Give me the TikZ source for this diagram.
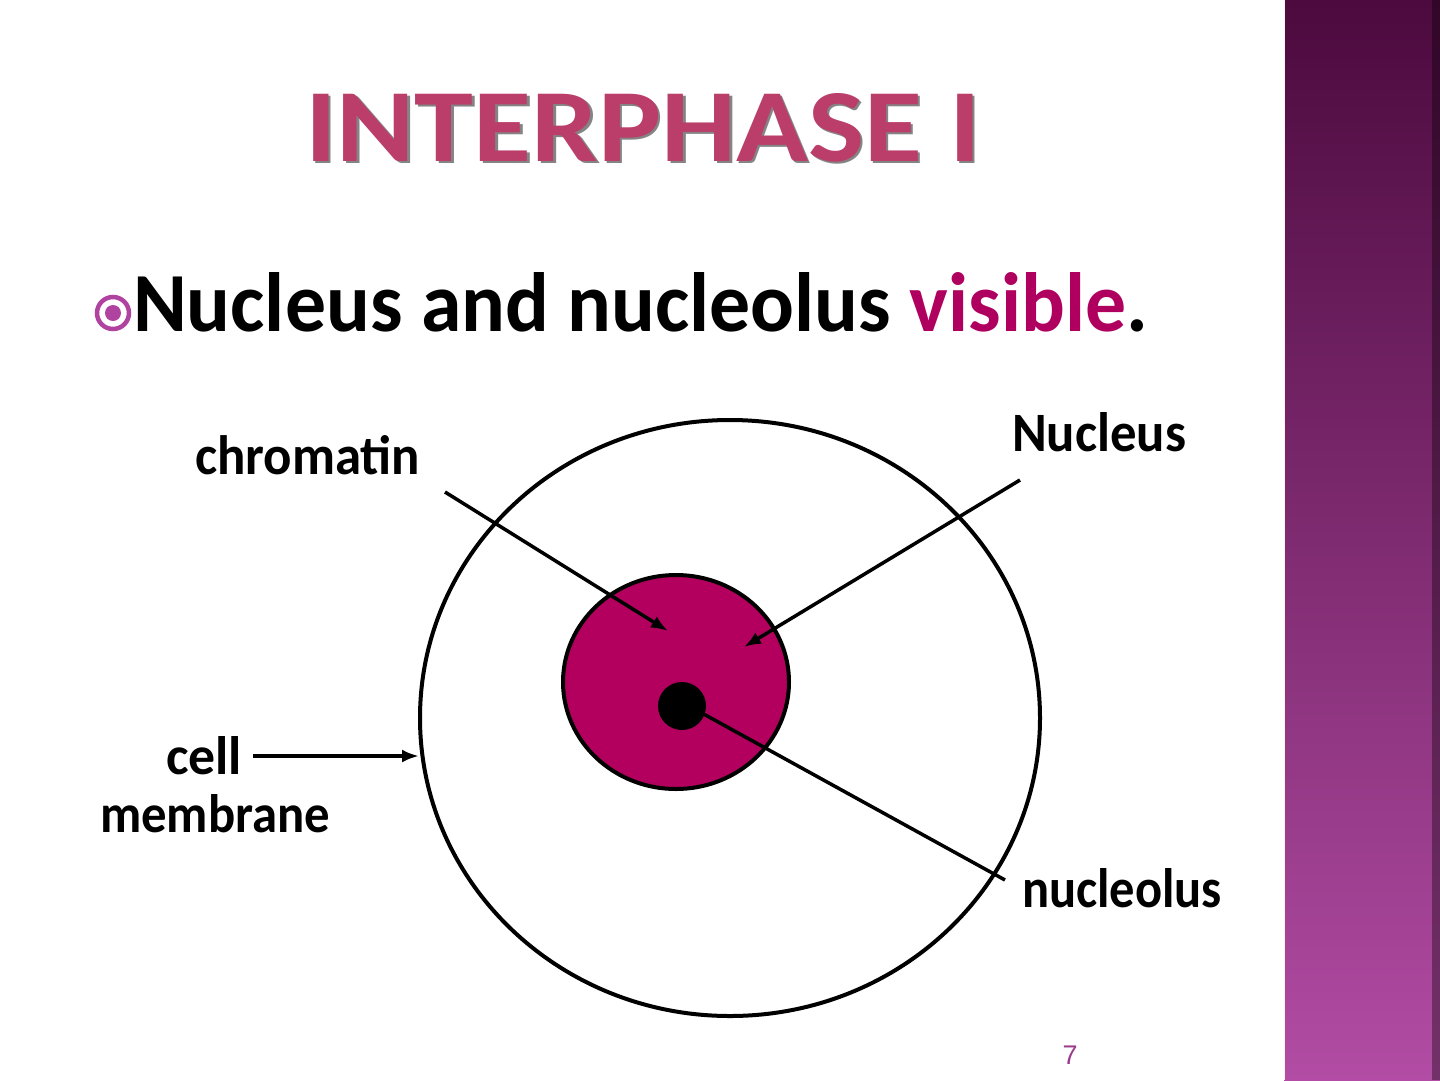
\documentclass[tikz,border=0pt]{standalone}
\usepackage{fontspec}
\setmainfont{Carlito}
\setsansfont{Liberation Sans}
\usepackage{graphicx}
\usetikzlibrary{arrows.meta}
\definecolor{titlepink}{HTML}{BB3D6A}
\definecolor{vispink}{HTML}{B0005F}
\definecolor{nucfill}{HTML}{B3005F}
\definecolor{bulletc}{HTML}{B042A0}
\definecolor{pagenum}{HTML}{9C3C8C}
\definecolor{sidetop}{HTML}{4C0A3E}
\definecolor{sidemid}{HTML}{853677}
\definecolor{sidebot}{HTML}{B24CA4}
\newcommand{\fitbox}[3]{\resizebox{#1}{#2}{\bfseries #3}}
\begin{document}
\begin{tikzpicture}[x=1pt,y=-1pt,
  lbl/.style={inner sep=0pt,outer sep=0pt,anchor=base west,text=black},
  conn/.style={line width=3.5pt,black},
  arr/.style={conn,-{Latex[length=17pt,width=13pt]}},
  outline/.style={line width=4pt,draw=black}]
\useasboundingbox (0,0) rectangle (1440,1080);
\fill[white] (0,0) rectangle (1440,1080);
% sidebar
\shade[top color=sidetop,middle color=sidemid,bottom color=sidebot] (1284,0) rectangle (1440,1080);
\fill[black,fill opacity=0.35] (1432,0) rectangle (1440,1080);
\draw[white!80!pink,line width=1.5pt] (1284.5,0) -- (1284.5,1080);
% title with shadow
\node[lbl,text=black!80,opacity=0.6] (titleshadow) at (307.5,163.5) {\fitbox{675pt}{68pt}{INTERPHASE I}};
\node[lbl,text=titlepink] (title) at (305,161) {\fitbox{675pt}{68pt}{INTERPHASE I}};
% bullet
\node[circle,draw=bulletc,line width=4.5pt,minimum size=32pt,inner sep=0pt] (bullet) at (113,313) {};
\fill[bulletc] (bullet.center) circle (8);
\node[lbl] (body) at (133,331) {\fitbox{1015pt}{59pt}{Nucleus and nucleolus \textcolor{vispink}{visible}.}};
% cell
\draw[outline] (730,718) ellipse [x radius=310, y radius=298];
\draw[outline,fill=nucfill] (676,682) ellipse [x radius=113, y radius=107];
\fill[black] (682,706) circle (24);
% coordinates
\coordinate (chromtip) at (668,631);
\coordinate (nuctip) at (744,647);
\coordinate (memtip) at (419,756);
\coordinate (nucleolusc) at (700,712);
\coordinate (chromstart) at (445,492);
\coordinate (nucstart) at (1020,480);
\coordinate (cellstart) at (253,756);
\coordinate (nolend) at (1005,880);
% labels
\node[lbl] (chromatin) at (195,474) {\fitbox{225pt}{39pt}{chromatin}};
\node[lbl] (nucleus) at (1012,451) {\fitbox{174pt}{39pt}{Nucleus}};
\node[lbl] (cell) at (166,774) {\fitbox{76pt}{38pt}{cell}};
\node[lbl] (membrane) at (100,832) {\fitbox{230pt}{38pt}{membrane}};
\node[lbl] (nucleolus) at (1022,907) {\fitbox{200pt}{39pt}{nucleolus}};
% connectors
\draw[arr] (chromstart) -- (chromtip);
\draw[arr] (nucstart) -- (nuctip);
\draw[arr] (cellstart) -- (memtip);
\draw[conn] (nucleolusc) -- (nolend);
% page number
\node[inner sep=0pt,text=pagenum,font=\sffamily\fontsize{27}{30}\selectfont] (page) at (1070,1055) {7};
\end{tikzpicture}
\end{document}
